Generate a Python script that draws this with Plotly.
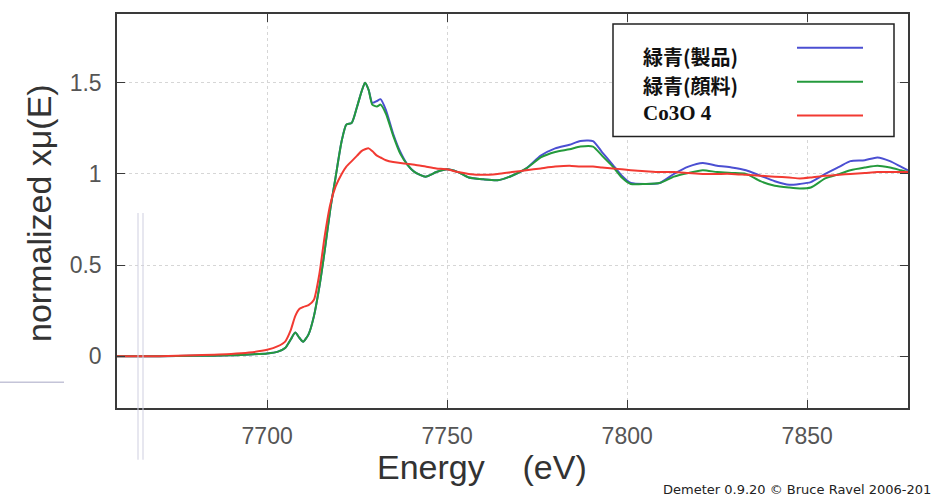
import plotly.graph_objects as go

# ---------------- data ----------------
energy = [7658, 7670, 7680, 7690, 7695, 7700, 7703, 7705, 7706.5, 7707.8, 7709, 7710,
          7711.5, 7713, 7714.5, 7716, 7717.5, 7719, 7720.7, 7722, 7723.5, 7725, 7726.2,
          7727.2, 7728.2, 7729.2, 7730.5, 7731.5, 7733, 7735, 7737, 7739, 7741, 7744,
          7747, 7750, 7753, 7756, 7760, 7764, 7768, 7772, 7776, 7780, 7784, 7787,
          7790.5, 7793, 7796, 7798.5, 7801, 7805, 7809, 7813, 7817, 7821, 7825, 7829,
          7833, 7837, 7841, 7845, 7848, 7851, 7855, 7859, 7862, 7866, 7869.5, 7873,
          7876, 7878]

product = [0.0, 0.0, 0.002, 0.005, 0.01, 0.015, 0.025, 0.045, 0.09, 0.13, 0.10, 0.08,
           0.12, 0.22, 0.38, 0.58, 0.80, 0.98, 1.18, 1.27, 1.28, 1.37, 1.45,
           1.50, 1.46, 1.39, 1.40, 1.41, 1.35, 1.22, 1.12, 1.05, 1.01, 0.985,
           1.01, 1.025, 1.01, 0.98, 0.97, 0.965, 0.99, 1.03, 1.10, 1.14, 1.16, 1.18,
           1.18, 1.12, 1.05, 0.99, 0.95, 0.945, 0.95, 1.0, 1.04, 1.06, 1.045, 1.035,
           1.02, 0.99, 0.96, 0.94, 0.945, 0.955, 1.0, 1.04, 1.07, 1.075, 1.09, 1.07,
           1.04, 1.02]

pigment = [0.0, 0.0, 0.002, 0.005, 0.01, 0.015, 0.025, 0.045, 0.09, 0.13, 0.10, 0.08,
           0.12, 0.22, 0.38, 0.58, 0.80, 0.98, 1.18, 1.27, 1.28, 1.37, 1.45,
           1.50, 1.46, 1.38, 1.37, 1.38, 1.33, 1.21, 1.11, 1.05, 1.01, 0.985,
           1.01, 1.025, 1.01, 0.98, 0.97, 0.965, 0.99, 1.03, 1.09, 1.12, 1.135, 1.15,
           1.15, 1.10, 1.04, 0.98, 0.945, 0.945, 0.95, 0.985, 1.005, 1.02, 1.01, 1.005,
           1.0, 0.96, 0.935, 0.925, 0.92, 0.925, 0.975, 1.0, 1.02, 1.035, 1.045, 1.035,
           1.02, 1.01]

co3o4 = [0.0, 0.0, 0.005, 0.012, 0.02, 0.035, 0.055, 0.08, 0.14, 0.22, 0.26, 0.27,
         0.28, 0.31, 0.45, 0.66, 0.83, 0.93, 1.0, 1.04, 1.07, 1.10, 1.125,
         1.135, 1.14, 1.125, 1.10, 1.09, 1.075, 1.065, 1.06, 1.055, 1.05, 1.04,
         1.03, 1.025, 1.01, 1.0, 0.995, 1.0, 1.01, 1.02, 1.03, 1.04, 1.045, 1.04,
         1.04, 1.035, 1.03, 1.025, 1.02, 1.015, 1.01, 1.01, 1.005, 1.0, 1.0, 1.0,
         0.995, 0.99, 0.985, 0.98, 0.975, 0.98, 0.99, 0.995, 1.0, 1.005, 1.01, 1.01,
         1.01, 1.01]

series_names = ["緑青(製品)", "緑青(顔料)", "Co3O 4"]
series_colors = ["#4b4fd2", "#249a3c", "#f23a32"]

x_ticks = [7700, 7750, 7800, 7850]
y_ticks = [0, 0.5, 1, 1.5]
y_tick_labels = ["0", "0.5", "1", "1.5"]

x_title = "Energy\u00a0\u00a0\u00a0\u00a0(eV)"
y_title = "normalized xμ(E)"
credit = "Demeter 0.9.20 © Bruce Ravel 2006-201"

# ---------------- geometry helpers (pixel -> paper) ----------------
W, H = 946, 499
L, R, T, B = 117, 908, 12, 408


def xp(px):
    return (px - L) / (R - L)


def yp(py):
    return (B - py) / (B - T)


fig = go.Figure()
for name, vals, col in zip(series_names, [product, pigment, co3o4], series_colors):
    fig.add_trace(go.Scatter(x=energy, y=vals, mode="lines", name=name,
                             line=dict(color=col, width=2, shape="spline", smoothing=0.6),
                             showlegend=False))

axis_common = dict(showline=True, linecolor="#3a3a3a", linewidth=1.5, mirror="ticks",
                   ticks="inside", ticklen=8, tickcolor="#3a3a3a", tickwidth=1,
                   showgrid=True, gridcolor="#d6d6d6", griddash="dot", gridwidth=1,
                   zeroline=False,
                   tickfont=dict(family="Liberation Sans, Arial, sans-serif", size=23,
                                 color="#555555"))

fig.update_xaxes(range=[7658.3, 7878], tickvals=x_ticks, ticklabelstandoff=7,
                 **axis_common)
fig.update_yaxes(range=[-0.284, 1.877], tickvals=y_ticks, ticktext=y_tick_labels,
                 ticklabelstandoff=9, **axis_common)

shapes = []
annotations = []

# legend box (text on the left, line sample on the right, as in the reference)
shapes.append(dict(type="rect", xref="paper", yref="paper",
                   x0=xp(613), x1=xp(894), y0=yp(135), y1=yp(22),
                   line=dict(color="#222222", width=1.5), fillcolor="white", layer="above"))
leg_line_y = [46, 80, 114]
leg_text_y = [55, 84, 112]
for i, (name, col) in enumerate(zip(series_names, series_colors)):
    shapes.append(dict(type="line", xref="paper", yref="paper",
                       x0=xp(797), x1=xp(863), y0=yp(leg_line_y[i]), y1=yp(leg_line_y[i]),
                       line=dict(color=col, width=2), layer="above"))
    fam = "Noto Sans CJK JP, sans-serif" if i < 2 else "Liberation Serif, serif"
    size = 20 if i < 2 else 21
    annotations.append(dict(text="<b>%s</b>" % name, xref="paper", yref="paper",
                            x=xp(641), y=yp(leg_text_y[i]), xanchor="left",
                            yanchor="middle", showarrow=False,
                            font=dict(family=fam, size=size, color="#111111")))

# axis titles
annotations.append(dict(text=y_title, xref="paper", yref="paper", x=xp(39), y=yp(212),
                        xanchor="center", yanchor="middle", textangle=-90, showarrow=False,
                        font=dict(family="Liberation Sans, Arial, sans-serif", size=34,
                                  color="#333333")))
annotations.append(dict(text=x_title, xref="paper", yref="paper", x=xp(482), y=yp(467),
                        xanchor="center", yanchor="middle", showarrow=False,
                        font=dict(family="Liberation Sans, Arial, sans-serif", size=34,
                                  color="#333333")))
annotations.append(dict(text=credit, xref="paper", yref="paper", x=xp(661), y=yp(490),
                        xanchor="left", yanchor="middle", showarrow=False,
                        font=dict(family="DejaVu Sans, sans-serif", size=13,
                                  color="#222222")))

# scan artefacts of the reference image
for xx in (138, 143):
    shapes.append(dict(type="line", xref="paper", yref="paper",
                       x0=xp(xx), x1=xp(xx), y0=yp(212), y1=yp(460),
                       line=dict(color="#cfcfe0", width=1), layer="above"))
shapes.append(dict(type="line", xref="paper", yref="paper",
                   x0=xp(0), x1=xp(64), y0=yp(382), y1=yp(382),
                   line=dict(color="#c4c4d8", width=1.5), layer="above"))

fig.update_layout(width=W, height=H, margin=dict(l=L, r=W - R, t=T, b=H - B),
                  plot_bgcolor="white", paper_bgcolor="white",
                  shapes=shapes, annotations=annotations)

fig.write_html("out.html", config={"displayModeBar": False},
               post_script="document.body.style.margin='0px';"
                           "document.body.style.padding='0px';")
